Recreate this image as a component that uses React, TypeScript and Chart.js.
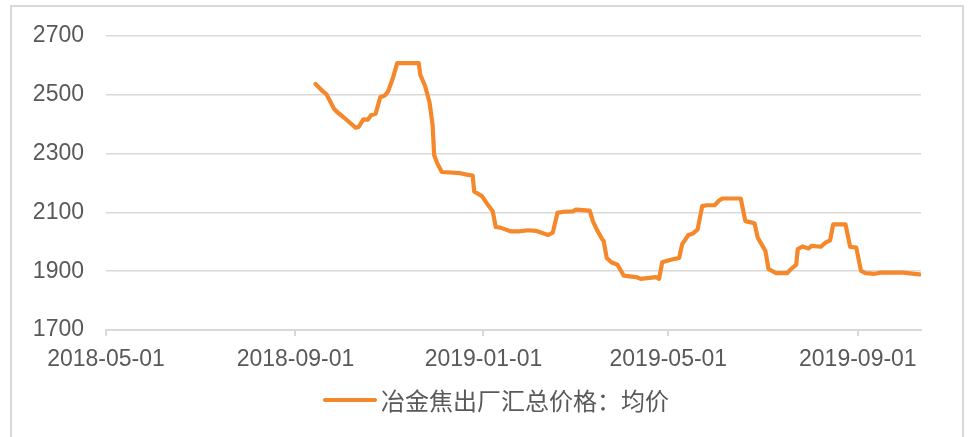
import React, { useEffect, useRef } from "react";
import { Chart, registerables } from "chart.js";

Chart.register(...registerables);

const seriesName = "冶金焦出厂汇总价格：均价";

const dates = [
  "2018-09-14", "2018-09-19", "2018-09-21", "2018-09-26", "2018-09-28", "2018-10-02",
  "2018-10-10", "2018-10-12", "2018-10-15", "2018-10-18", "2018-10-20", "2018-10-23",
  "2018-10-26", "2018-10-29", "2018-10-31", "2018-11-03", "2018-11-06", "2018-11-20",
  "2018-11-21", "2018-11-24", "2018-11-27", "2018-11-29", "2018-11-30", "2018-12-02",
  "2018-12-05", "2018-12-17", "2018-12-21", "2018-12-25", "2018-12-26", "2018-12-31",
  "2019-01-03", "2019-01-07", "2019-01-09", "2019-01-12", "2019-01-19", "2019-01-24",
  "2019-01-30", "2019-02-04", "2019-02-12", "2019-02-15", "2019-02-18", "2019-02-22",
  "2019-02-28", "2019-03-02", "2019-03-11", "2019-03-13", "2019-03-16", "2019-03-19",
  "2019-03-20", "2019-03-22", "2019-03-25", "2019-03-29", "2019-04-02", "2019-04-10",
  "2019-04-13", "2019-04-23", "2019-04-25", "2019-04-27", "2019-05-02", "2019-05-08",
  "2019-05-10", "2019-05-14", "2019-05-17", "2019-05-20", "2019-05-23", "2019-05-26",
  "2019-05-31", "2019-06-03", "2019-06-05", "2019-06-17", "2019-06-20", "2019-06-25",
  "2019-06-26", "2019-06-28", "2019-07-03", "2019-07-05", "2019-07-10", "2019-07-17",
  "2019-07-19", "2019-07-23", "2019-07-24", "2019-07-27", "2019-07-31", "2019-08-02",
  "2019-08-08", "2019-08-11", "2019-08-14", "2019-08-16", "2019-08-24", "2019-08-27",
  "2019-08-31", "2019-09-03", "2019-09-06", "2019-09-12", "2019-09-16", "2019-09-30",
  "2019-10-11",
];

const prices = [
  2536, 2510, 2502, 2452, 2441, 2424,
  2388, 2390, 2416, 2415, 2430, 2435,
  2491, 2497, 2510, 2553, 2607, 2607,
  2567, 2531, 2474, 2396, 2295, 2267,
  2237, 2233, 2228, 2225, 2171, 2155,
  2132, 2104, 2050, 2048, 2035, 2035,
  2039, 2037, 2023, 2031, 2098, 2102,
  2103, 2109, 2106, 2070, 2037, 2009,
  2003, 1945, 1930, 1922, 1885, 1880,
  1874, 1880, 1874, 1930, 1938, 1945,
  1992, 2023, 2028, 2042, 2121, 2124,
  2124, 2140, 2147, 2147, 2070, 2064,
  2062, 2014, 1969, 1908, 1893, 1893,
  1904, 1922, 1975, 1984, 1977, 1986,
  1983, 1997, 2005, 2059, 2059, 1983,
  1980, 1902, 1893, 1891, 1895, 1895,
  1889,
];

const xTickLabels = ["2018-05-01", "2018-09-01", "2019-01-01", "2019-05-01", "2019-09-01"];
const xStart = "2018-05-01";
const xEnd = "2019-10-12";
const yMin = 1700;
const yMax = 2700;
const yStep = 200;

const START = Date.UTC(2018, 4, 1);
function dayOf(s: string): number {
  const [y, m, d] = s.split("-").map(Number);
  return Math.round((Date.UTC(y, m - 1, d) - START) / 86400000);
}
function fmt(day: number): string {
  return new Date(START + day * 86400000).toISOString().slice(0, 10);
}

const LINE_COLOR = "#F5882A";
const TEXT_COLOR = "#595959";
const GRID_COLOR = "#d9d9d9";
const LATIN_FONT = "'Liberation Sans', Arial, sans-serif";
const CJK_FONT = "'Noto Sans CJK SC', 'Liberation Sans', sans-serif";

export default function App() {
  const canvasRef = useRef<HTMLCanvasElement | null>(null);

  useEffect(() => {
    const canvas = canvasRef.current;
    if (!canvas) return;
    const points = dates.map((d, i) => ({ x: dayOf(d), y: prices[i] }));
    const chart = new Chart(canvas, {
      type: "line",
      data: {
        datasets: [
          {
            label: seriesName,
            data: points,
            borderColor: LINE_COLOR,
            backgroundColor: LINE_COLOR,
            borderWidth: 4.2,
            pointRadius: 0,
            tension: 0,
            borderJoinStyle: "round",
            borderCapStyle: "round",
          },
        ],
      },
      options: {
        animation: false,
        responsive: false,
        maintainAspectRatio: false,
        layout: { padding: { top: 33, right: 52, bottom: 0, left: 0 } },
        plugins: { legend: { display: false }, tooltip: { enabled: false } },
        scales: {
          x: {
            type: "linear",
            min: dayOf(xStart),
            max: dayOf(xEnd),
            afterBuildTicks: (scale: any) => {
              scale.ticks = xTickLabels.map((s) => ({ value: dayOf(s) }));
            },
            afterFit: (scale: any) => {
              scale.height = 107;
            },
            ticks: {
              autoSkip: false,
              maxRotation: 0,
              minRotation: 0,
              padding: 10,
              color: TEXT_COLOR,
              font: { family: LATIN_FONT, size: 23 },
              callback: (v: any) => fmt(Number(v)),
            },
            grid: {
              display: true,
              drawOnChartArea: false,
              drawTicks: true,
              tickLength: 6,
              color: GRID_COLOR,
              lineWidth: 2,
            },
            border: { display: true, color: GRID_COLOR, width: 2 },
          },
          y: {
            type: "linear",
            min: yMin,
            max: yMax,
            afterFit: (scale: any) => {
              scale.width = 106;
            },
            ticks: {
              stepSize: yStep,
              padding: 22,
              color: TEXT_COLOR,
              font: { family: LATIN_FONT, size: 23 },
              callback: (v: any) => String(v),
            },
            grid: {
              color: GRID_COLOR,
              lineWidth: 1.5,
              drawTicks: false,
            },
            border: { display: false },
          },
        },
      },
    });
    return () => chart.destroy();
  }, []);

  return (
    <div style={{ position: "absolute", left: 0, top: 0, width: 973, height: 437, overflow: "hidden", background: "#fff" }}>
      <div
        style={{
          position: "absolute",
          left: 10,
          top: 5,
          width: 954,
          height: 432,
          boxSizing: "border-box",
          border: `2px solid ${GRID_COLOR}`,
          borderBottom: "none",
        }}
      />
      <canvas
        ref={canvasRef}
        width={973}
        height={437}
        style={{ position: "absolute", left: 0, top: 0, width: 973, height: 437 }}
      />
      <div
        style={{
          position: "absolute",
          left: 323,
          top: 384,
          height: 32,
          display: "flex",
          alignItems: "center",
          whiteSpace: "nowrap",
        }}
      >
        <span style={{ display: "inline-block", width: 54, height: 4, background: LINE_COLOR, borderRadius: 2 }} />
        <span
          style={{
            marginLeft: 4,
            fontFamily: CJK_FONT,
            fontSize: 24,
            lineHeight: "32px",
            color: TEXT_COLOR,
          }}
        >
          {seriesName}
        </span>
      </div>
    </div>
  );
}
